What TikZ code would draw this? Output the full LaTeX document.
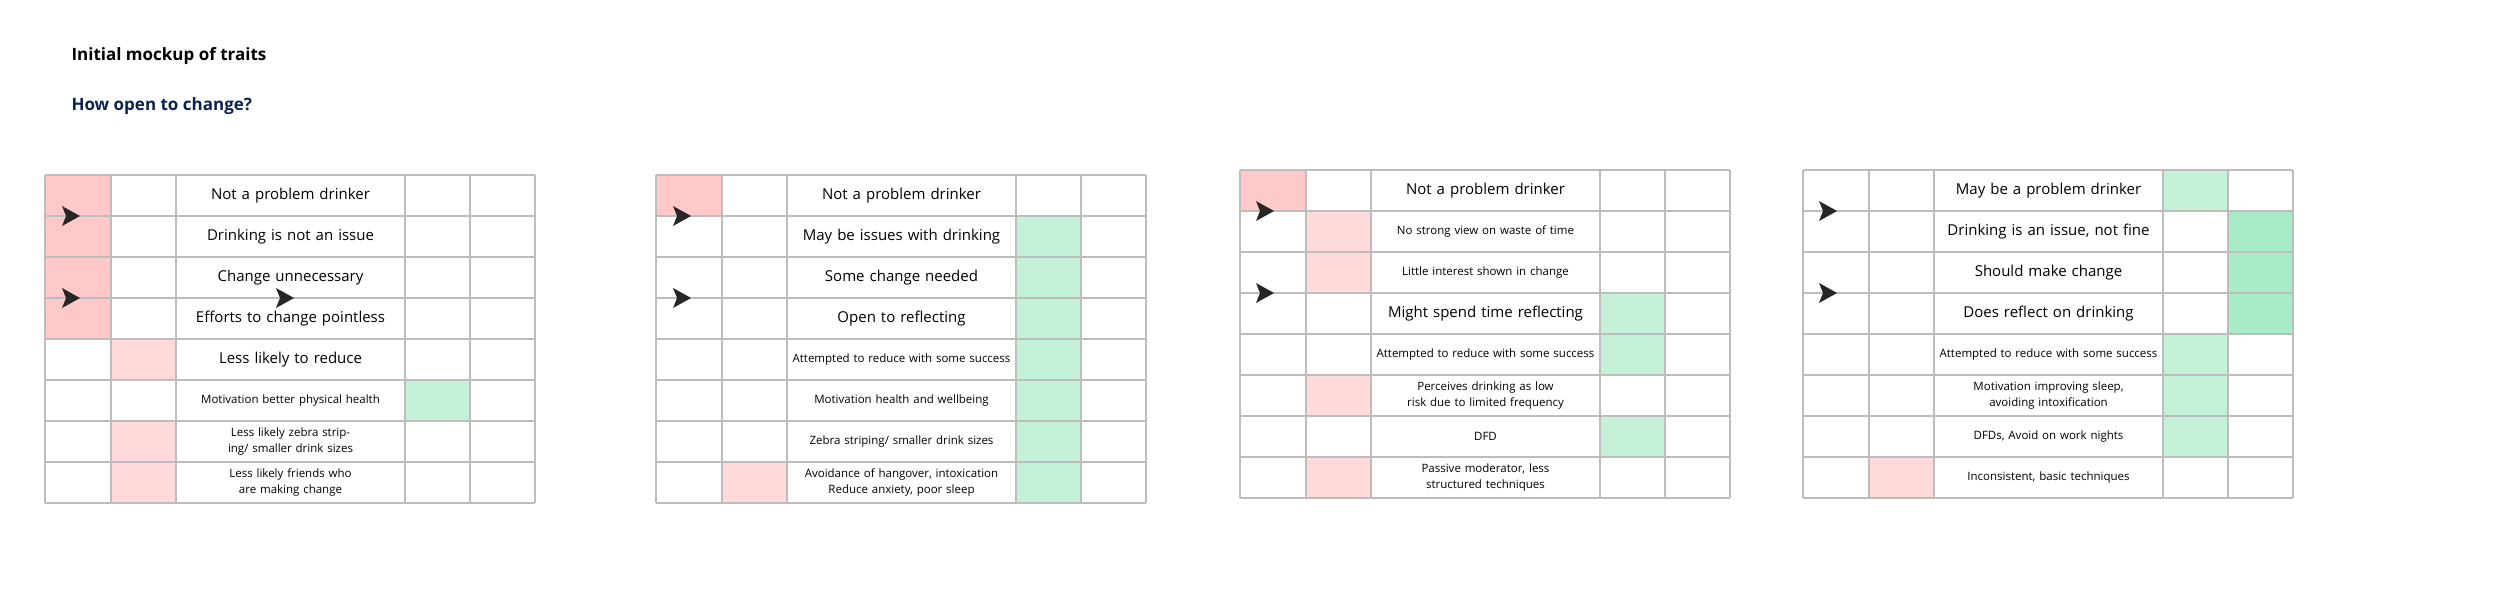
\documentclass[tikz,border=0pt]{standalone}
\usepackage{fontspec}
\setmainfont{Open Sans}
\definecolor{redS}{HTML}{FFC9C9}
\definecolor{redL}{HTML}{FFDADA}
\definecolor{grn}{HTML}{C3F2D8}
\definecolor{grnD}{HTML}{A8EBC7}
\definecolor{gridc}{HTML}{BDBDBD}
\definecolor{navy}{HTML}{0B2350}
\tikzset{
 gridline/.style={draw=gridc,line width=2pt},
 bigtxt/.style={font=\fontsize{15}{18}\selectfont,align=center,text width=222pt},
 smalltxt/.style={font=\fontsize{11.5}{16}\selectfont,align=center,text width=222pt},
 chev/.style={fill=black!85,draw=none}
}
\newcommand{\cellfill}[5]{% x0 y0 col row color
 \pgfmathsetmacro{\cxa}{#1+{0,66,131,360,425}[#3]}
 \pgfmathsetmacro{\cxb}{#1+{66,131,360,425,490}[#3]}
 \fill[#5] (\cxa,#2+41*#4) rectangle (\cxb,#2+41*#4+41);}
\newcommand{\gridtable}[2]{%
 \foreach \c in {0,66,131,360,425,490} \draw[gridline] (#1+\c,#2) -- (#1+\c,#2+328);
 \foreach \r in {0,...,8} \draw[gridline] (#1,#2+41*\r) -- (#1+490,#2+41*\r);}
\newcommand{\txt}[6]{% name x0 y0 row style text
 \node[#5] (#1) at (#2+245.5,#3+41*#4+20.5) {#6};}
\newcommand{\chevron}[3]{% name x y
 \coordinate (#1) at (#2,#3);
 \fill[chev] ($(#1)+(-8,-10)$) -- ($(#1)+(10,0)$) -- ($(#1)+(-8,10)$) -- ($(#1)+(-4,0)$) -- cycle;}
\usetikzlibrary{calc}
\begin{document}
\begin{tikzpicture}[x=1pt,y=-1pt]
\useasboundingbox (0,0) rectangle (2500,607);
\fill[white] (0,0) rectangle (2500,607);
\node[anchor=west,font=\fontsize{17}{20}\selectfont\bfseries] (title) at (68,56) {Initial mockup of traits};
\node[anchor=west,font=\fontsize{17}{20}\selectfont\bfseries,text=navy] (sub) at (68,106) {How open to change?};
% table 1
\foreach \r in {0,1,2,3} {\cellfill{45}{175}{0}{\r}{redS}}
\foreach \r in {4,6,7} {\cellfill{45}{175}{1}{\r}{redL}}
\cellfill{45}{175}{3}{5}{grn}
\gridtable{45}{175}
\txt{a0}{45}{175}{0}{bigtxt}{Not a problem drinker}
\txt{a1}{45}{175}{1}{bigtxt}{Drinking is not an issue}
\txt{a2}{45}{175}{2}{bigtxt}{Change unnecessary}
\txt{a3}{45}{175}{3}{bigtxt}{Efforts to change pointless}
\txt{a4}{45}{175}{4}{bigtxt}{Less likely to reduce}
\txt{a5}{45}{175}{5}{smalltxt}{Motivation better physical health}
\txt{a6}{45}{175}{6}{smalltxt}{Less likely zebra striping/ smaller drink sizes}
\txt{a7}{45}{175}{7}{smalltxt}{Less likely friends who are making change}
\chevron{ca1}{70}{216}
\chevron{ca2}{70}{298}
\chevron{ca3}{284}{298}
% table 2
\cellfill{656}{175}{0}{0}{redS}
\foreach \r in {1,...,7} {\cellfill{656}{175}{3}{\r}{grn}}
\cellfill{656}{175}{1}{7}{redL}
\gridtable{656}{175}
\txt{b0}{656}{175}{0}{bigtxt}{Not a problem drinker}
\txt{b1}{656}{175}{1}{bigtxt}{May be issues with drinking}
\txt{b2}{656}{175}{2}{bigtxt}{Some change needed}
\txt{b3}{656}{175}{3}{bigtxt}{Open to reflecting}
\txt{b4}{656}{175}{4}{smalltxt}{Attempted to reduce with some success}
\txt{b5}{656}{175}{5}{smalltxt}{Motivation health and wellbeing}
\txt{b6}{656}{175}{6}{smalltxt}{Zebra striping/ smaller drink sizes}
\txt{b7}{656}{175}{7}{smalltxt}{Avoidance of hangover, intoxication\\Reduce anxiety, poor sleep}
\chevron{cb1}{681}{216}
\chevron{cb2}{681}{298}
% table 3
\cellfill{1240}{170}{0}{0}{redS}
\foreach \r in {1,2,5,7} {\cellfill{1240}{170}{1}{\r}{redL}}
\foreach \r in {3,4,6} {\cellfill{1240}{170}{3}{\r}{grn}}
\gridtable{1240}{170}
\txt{c0}{1240}{170}{0}{bigtxt}{Not a problem drinker}
\txt{c1}{1240}{170}{1}{smalltxt}{No strong view on waste of time}
\txt{c2}{1240}{170}{2}{smalltxt}{Little interest shown in change}
\txt{c3}{1240}{170}{3}{bigtxt}{Might spend time reflecting}
\txt{c4}{1240}{170}{4}{smalltxt}{Attempted to reduce with some success}
\txt{c5}{1240}{170}{5}{smalltxt}{Perceives drinking as low risk due to limited frequency}
\txt{c6}{1240}{170}{6}{smalltxt}{DFD}
\txt{c7}{1240}{170}{7}{smalltxt}{Passive moderator, less structured techniques}
\chevron{cc1}{1264}{211}
\chevron{cc2}{1264}{293}
% table 4
\foreach \r in {0,4,5,6} {\cellfill{1803}{170}{3}{\r}{grn}}
\foreach \r in {1,2,3} {\cellfill{1803}{170}{4}{\r}{grnD}}
\cellfill{1803}{170}{1}{7}{redL}
\gridtable{1803}{170}
\txt{d0}{1803}{170}{0}{bigtxt}{May be a problem drinker}
\txt{d1}{1803}{170}{1}{bigtxt}{Drinking is an issue, not fine}
\txt{d2}{1803}{170}{2}{bigtxt}{Should make change}
\txt{d3}{1803}{170}{3}{bigtxt}{Does reflect on drinking}
\txt{d4}{1803}{170}{4}{smalltxt}{Attempted to reduce with some success}
\txt{d5}{1803}{170}{5}{smalltxt}{Motivation improving sleep, avoiding intoxification}
\txt{d6}{1803}{170}{6}{smalltxt}{DFDs, Avoid on work nights}
\txt{d7}{1803}{170}{7}{smalltxt}{Inconsistent, basic techniques}
\chevron{cd1}{1827}{211}
\chevron{cd2}{1827}{293}
\end{tikzpicture}
\end{document}
